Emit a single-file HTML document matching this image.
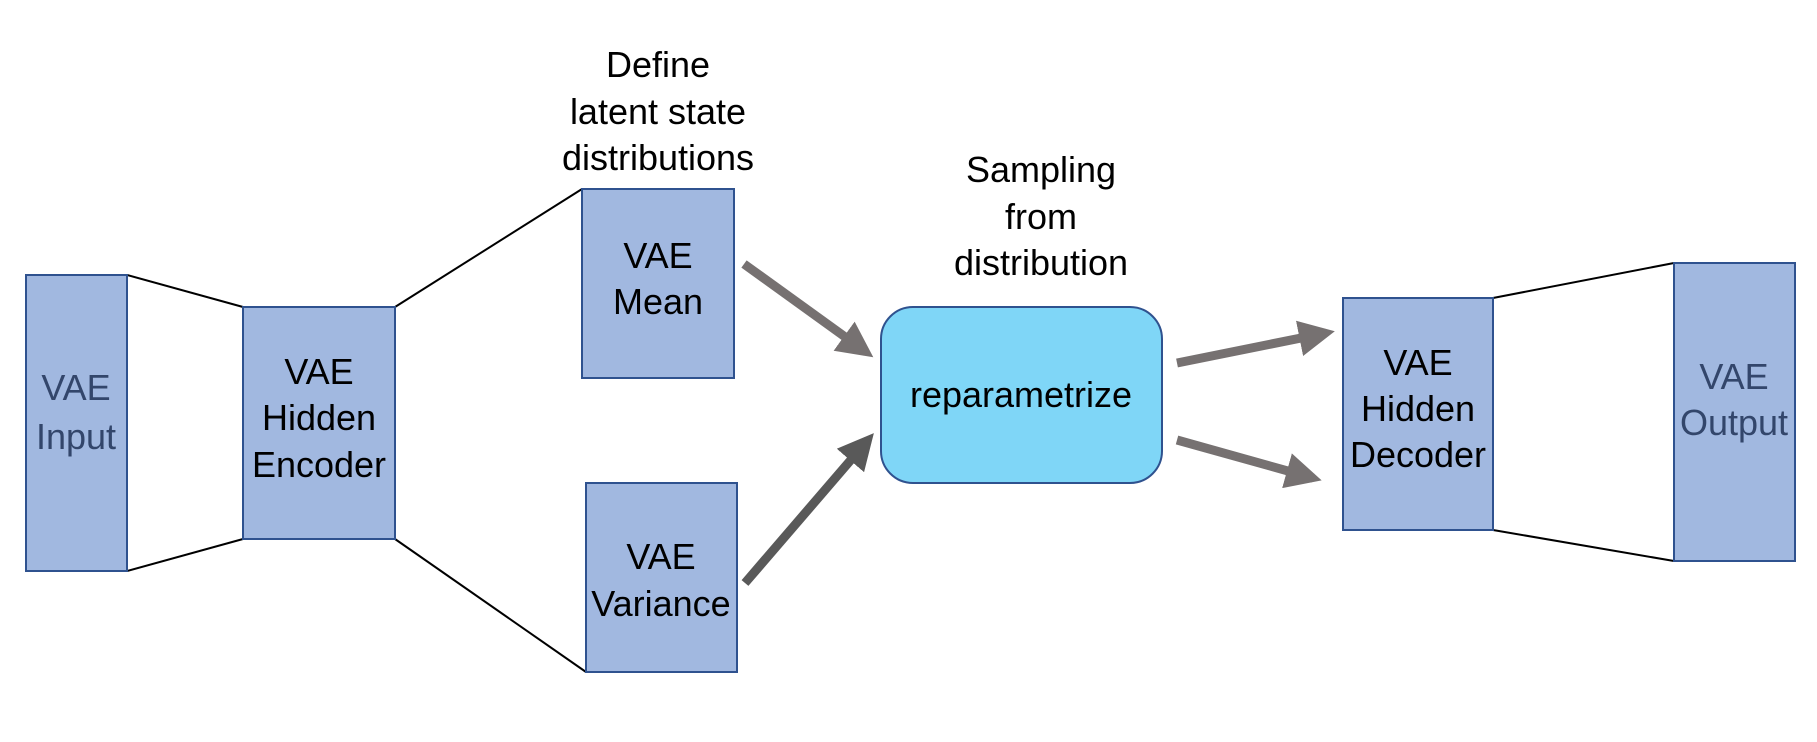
<!DOCTYPE html>
<html><head><meta charset="utf-8"><style>
html,body{margin:0;padding:0;background:#fff;}
svg{display:block;}
text{font-family:"Liberation Sans","Noto Sans CJK SC",sans-serif;font-size:36px;text-anchor:middle;}
</style></head><body>
<svg width="1817" height="742" viewBox="0 0 1817 742" xmlns="http://www.w3.org/2000/svg">
<defs>
<marker id="a1" markerWidth="4" markerHeight="4" refX="3" refY="2" orient="auto" markerUnits="strokeWidth"><path d="M0,0 L4,2 L0,4 Z" fill="#767171"/></marker>
<marker id="a2" markerWidth="4" markerHeight="4" refX="3" refY="2" orient="auto" markerUnits="strokeWidth"><path d="M0,0 L4,2 L0,4 Z" fill="#595959"/></marker>
</defs>
<g stroke="#000" stroke-width="2" fill="none">
<line x1="127" y1="275" x2="243" y2="307"/>
<line x1="127" y1="571" x2="243" y2="539"/>
<line x1="395" y1="307" x2="582" y2="189"/>
<line x1="395" y1="539" x2="586" y2="672"/>
<line x1="1493" y1="298" x2="1674" y2="263"/>
<line x1="1493" y1="530" x2="1674" y2="561"/>
</g>
<g fill="#a1b8e0" stroke="#2f528f" stroke-width="2">
<rect x="26" y="275" width="101" height="296"/>
<rect x="243" y="307" width="152" height="232"/>
<rect x="582" y="189" width="152" height="189"/>
<rect x="586" y="483" width="151" height="189"/>
<rect x="1343" y="298" width="150" height="232"/>
<rect x="1674" y="263" width="121" height="298"/>
</g>
<rect x="881" y="307" width="281" height="176" rx="32" ry="32" fill="#7fd6f7" stroke="#2f528f" stroke-width="2"/>
<g stroke-width="9" fill="none">
<line x1="744" y1="264" x2="866" y2="352" stroke="#767171" marker-end="url(#a1)"/>
<line x1="745" y1="583" x2="868" y2="440" stroke="#595959" marker-end="url(#a2)"/>
<line x1="1177" y1="363" x2="1326" y2="333" stroke="#767171" marker-end="url(#a1)"/>
<line x1="1177" y1="440" x2="1313" y2="478" stroke="#767171" marker-end="url(#a1)"/>
</g>
<g fill="#000">
<text x="658" y="77">Define</text>
<text x="658" y="124">latent state</text>
<text x="658" y="170">distributions</text>
<text x="1041" y="182">Sampling</text>
<text x="1041" y="229">from</text>
<text x="1041" y="275">distribution</text>
<text x="319" y="384">VAE</text>
<text x="319" y="430">Hidden</text>
<text x="319" y="477">Encoder</text>
<text x="658" y="268">VAE</text>
<text x="658" y="314">Mean</text>
<text x="661" y="569">VAE</text>
<text x="661" y="616">Variance</text>
<text x="1021" y="407">reparametrize</text>
<text x="1418" y="375">VAE</text>
<text x="1418" y="421">Hidden</text>
<text x="1418" y="467">Decoder</text>
</g>
<g fill="#33466b">
<text x="76" y="400">VAE</text>
<text x="76" y="449">Input</text>
<text x="1734" y="389">VAE</text>
<text x="1734" y="435">Output</text>
</g>
</svg>
</body></html>
